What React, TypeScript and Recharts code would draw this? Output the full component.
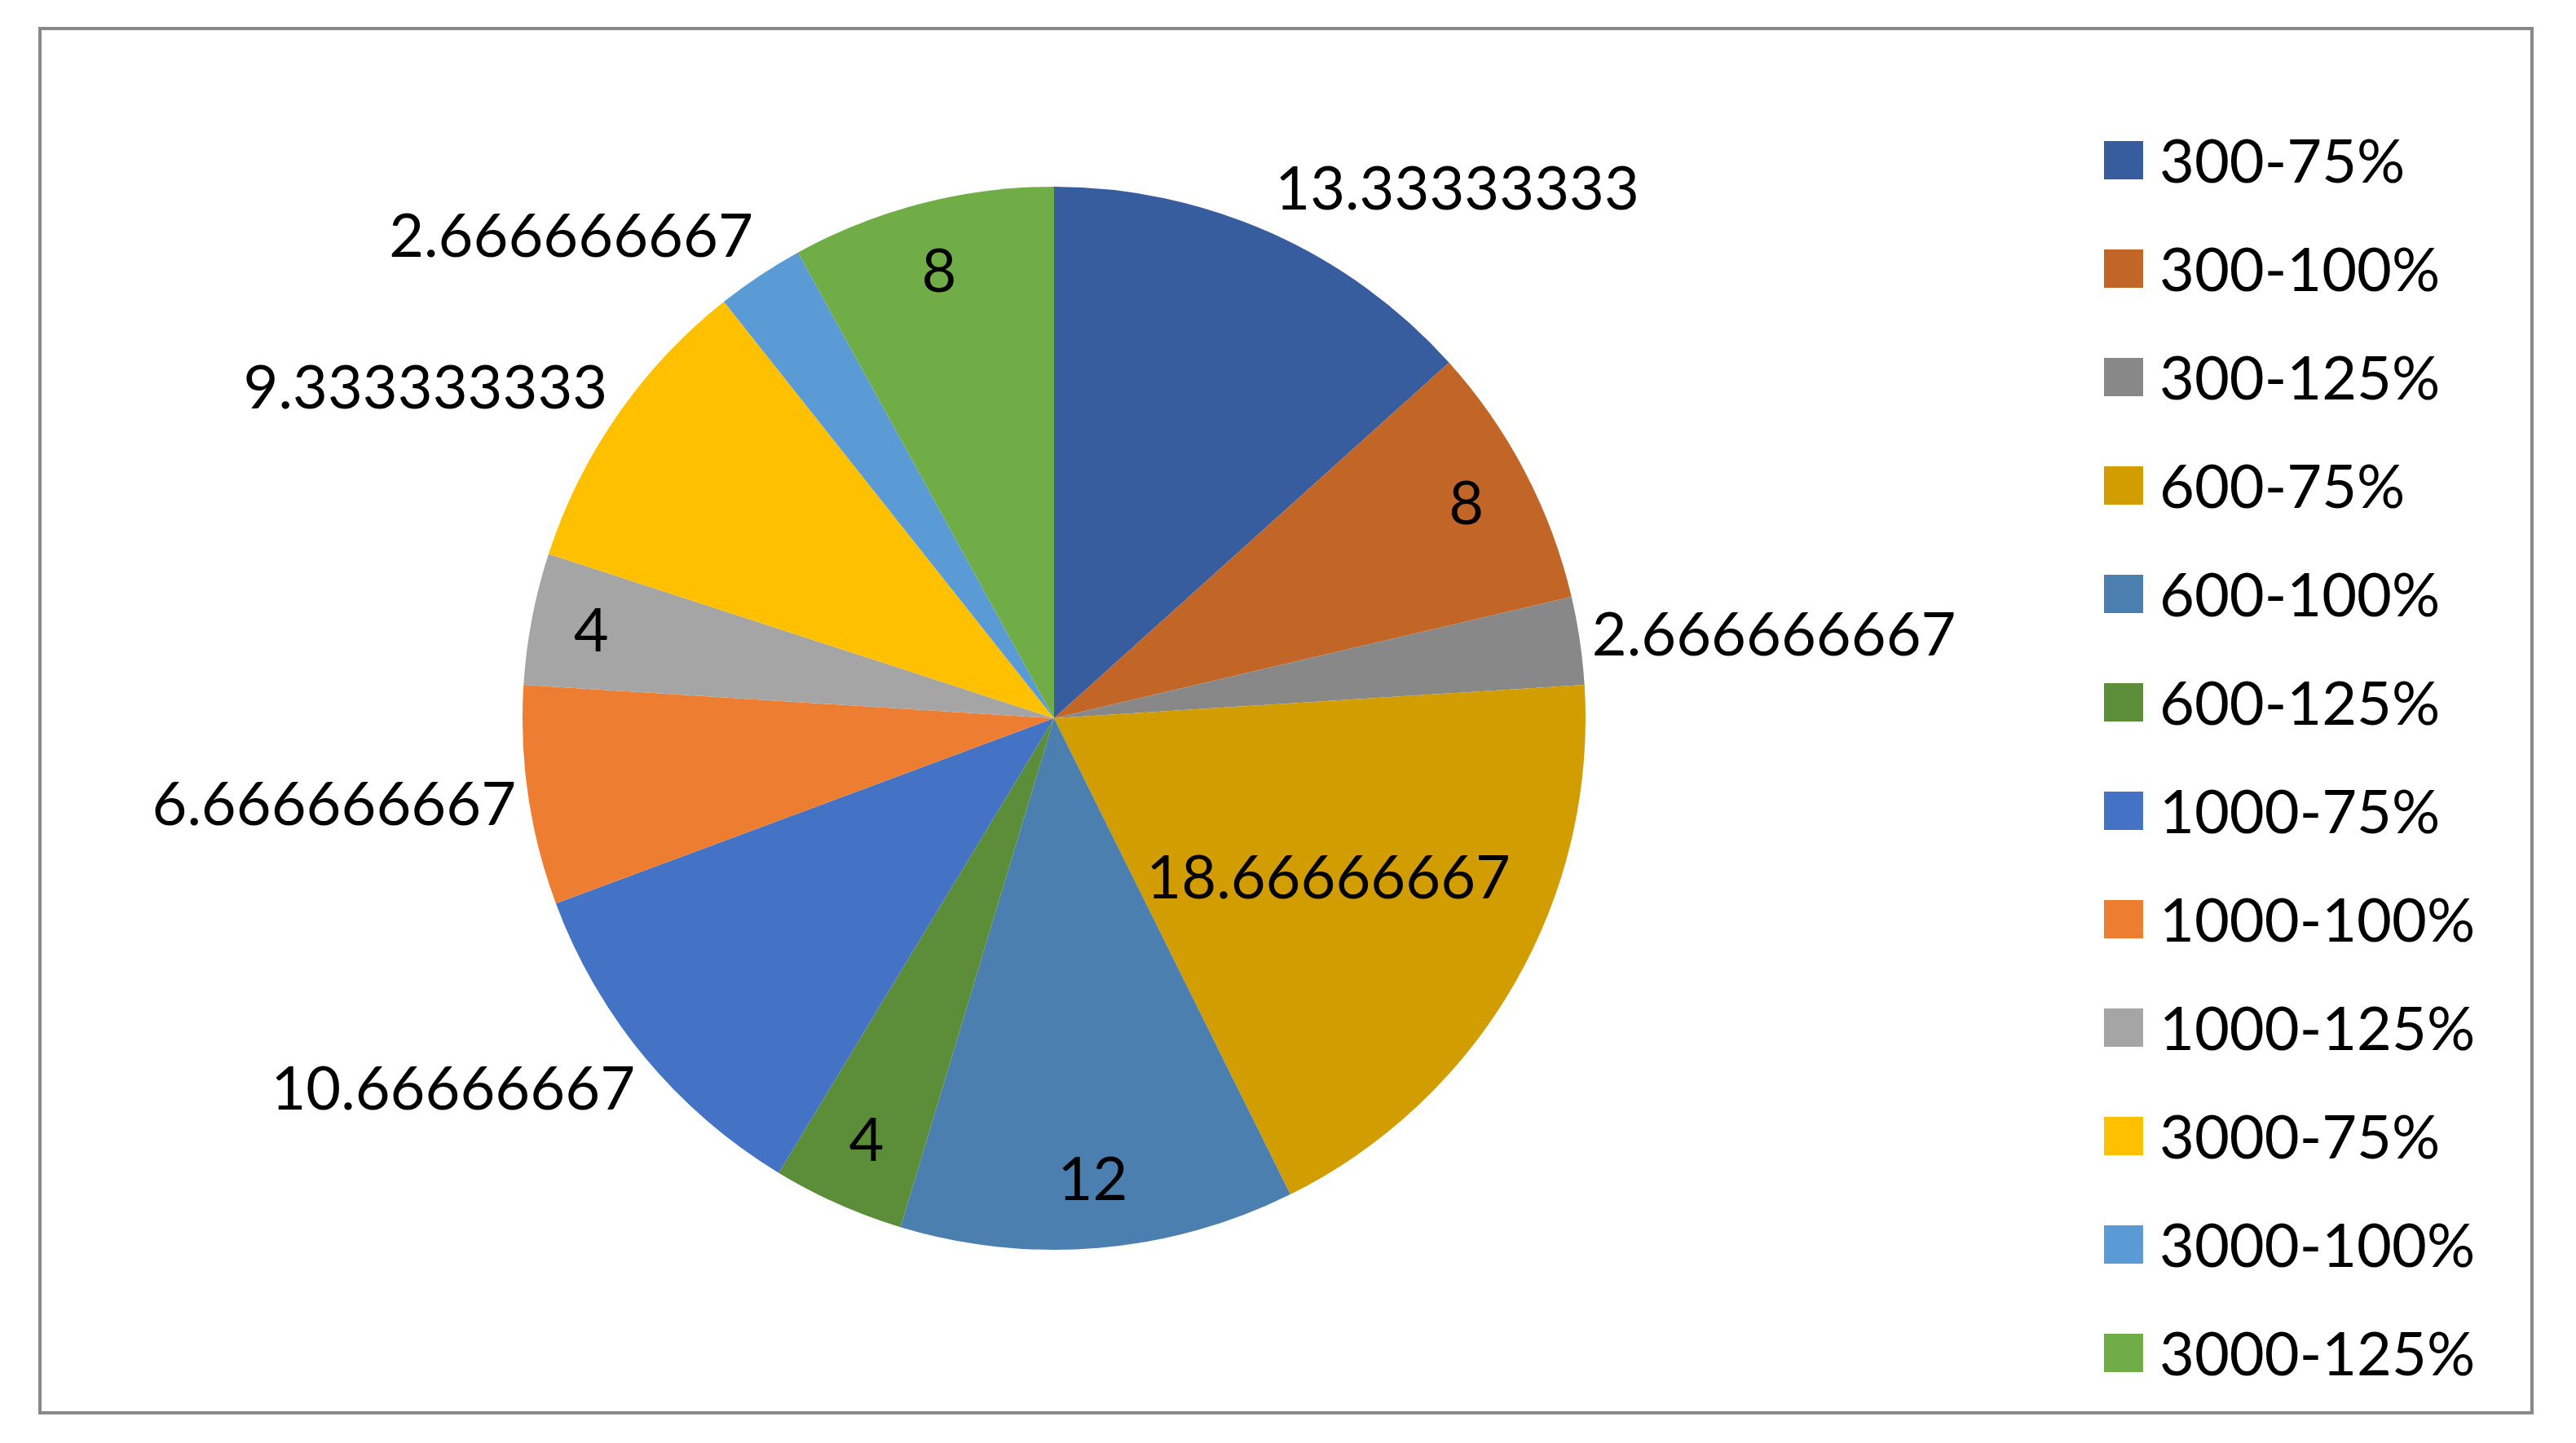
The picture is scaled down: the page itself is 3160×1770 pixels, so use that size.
import React from 'react';
import { PieChart, Pie, Cell, Legend } from 'recharts';

const categories = [
  '300-75%', '300-100%', '300-125%',
  '600-75%', '600-100%', '600-125%',
  '1000-75%', '1000-100%', '1000-125%',
  '3000-75%', '3000-100%', '3000-125%',
];

const values = [
  13.33333333, 8, 2.666666667,
  18.66666667, 12, 4,
  10.66666667, 6.666666667, 4,
  9.333333333, 2.666666667, 8,
];

const colors = [
  '#375D9F', '#C26628', '#888888',
  '#D19D00', '#4B7FAF', '#5C8E3A',
  '#4472C4', '#ED7D31', '#A5A5A5',
  '#FFC000', '#5B9BD5', '#70AD47',
];

const data = categories.map((name, i) => ({ name, value: values[i] }));

const W = 3160;
const H = 1770;
const FONT = 'Lato, "Open Sans", sans-serif';
const FS = 74;
const RADIAN = Math.PI / 180;

const textWidth = (s: string) => {
  let w = 0;
  for (const ch of s) w += ch === '.' ? 0.27 * FS : 0.58 * FS;
  return w;
};

const renderLabel = (props: any) => {
  const { cx, cy, midAngle, outerRadius, value, startAngle, endAngle } = props;
  const text = String(value);
  const w = textWidth(text);
  const hh = 35;
  const sweep = Math.abs(endAngle - startAngle) * RADIAN;
  const chord = 2 * outerRadius * Math.sin(sweep / 2);
  const dx = Math.cos(midAngle * RADIAN);
  const dy = -Math.sin(midAngle * RADIAN);
  const inside = w < 0.75 * chord;
  if (inside) {
    // push the label box outward along the bisector while it stays in the pie
    const ax = w / 2;
    const bound = 0.93 * outerRadius;
    const sx = Math.sign(dx) || 1;
    const sy = Math.sign(dy) || 1;
    const px = sx * ax;
    const py = sy * hh;
    const b = 2 * (dx * px + dy * py);
    const c = px * px + py * py - bound * bound;
    const t = (-b + Math.sqrt(b * b - 4 * c)) / 2;
    const x = cx + dx * t;
    const y = cy + dy * t;
    return (
      <text x={x} y={y + 0.36 * FS} textAnchor="middle" fill="#000"
        style={{ fontFamily: FONT, fontSize: FS }}>
        {text}
      </text>
    );
  }
  const g = 15;
  const px = cx + dx * (outerRadius + g);
  const py = cy + dy * (outerRadius + g);
  const yc = py + dy * 45;
  return (
    <text x={px} y={yc + 0.36 * FS} textAnchor={dx >= 0 ? 'start' : 'end'} fill="#000"
      style={{ fontFamily: FONT, fontSize: FS }}>
      {text}
    </text>
  );
};

const renderLegend = (props: any) => {
  const payload: any[] = (props && props.payload) || [];
  const byName: Record<string, string> = {};
  payload.forEach((p: any) => { byName[p.value] = p.color; });
  const items = categories.map((c, i) => ({ label: c, color: byName[c] || colors[i] }));
  return (
    <div>
      {items.map((it, i) => (
        <div key={i} style={{ height: 133, display: 'flex', alignItems: 'center' }}>
          <div style={{ width: 48, height: 47, background: it.color, marginRight: 20, flexShrink: 0 }} />
          <span style={{ fontFamily: FONT, fontSize: FS, color: '#000', whiteSpace: 'nowrap', lineHeight: 1.2 }}>
            {it.label}
          </span>
        </div>
      ))}
    </div>
  );
};

export default function App() {
  return (
    <div style={{ position: 'absolute', left: 0, top: 0, width: W, height: H, background: '#fff' }}>
      <div style={{
        position: 'absolute', left: 47, top: 33, width: 3061, height: 1702,
        boxSizing: 'border-box', border: '4px solid #898989',
      }} />
      <div style={{ position: 'absolute', left: 0, top: 0 }}>
        <PieChart width={W} height={H} margin={{ top: 0, right: 0, bottom: 0, left: 0 }}>
          <Pie
            data={data}
            dataKey="value"
            nameKey="name"
            cx={1293}
            cy={881}
            outerRadius={652}
            startAngle={90}
            endAngle={-270}
            stroke="none"
            isAnimationActive={false}
            labelLine={false}
            label={renderLabel}
          >
            {data.map((d, i) => (
              <Cell key={d.name} fill={colors[i]} stroke="none" />
            ))}
          </Pie>
          <Legend
            layout="horizontal"
            verticalAlign="middle"
            align="center"
            content={renderLegend}
            wrapperStyle={{ left: 2581, top: 130, width: 560, height: 1596 }}
          />
        </PieChart>
      </div>
    </div>
  );
}
